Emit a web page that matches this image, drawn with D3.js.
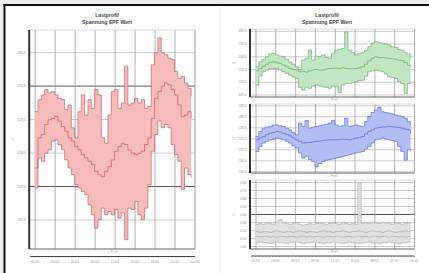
<!DOCTYPE html>
<html>
<head>
<meta charset="utf-8">
<script src="https://cdn.jsdelivr.net/npm/d3@7"></script>
<style>
  html, body { margin: 0; padding: 0; background: #ebebeb; }
  svg { display: block; font-family: "Liberation Sans", Arial, sans-serif; }
</style>
</head>
<body>
<svg id="chart" width="429" height="273"></svg>
<script>
// time of day (hours), one sample every half hour
const HOURS = [0, 0.5, 1, 1.5, 2, 2.5, 3, 3.5, 4, 4.5, 5, 5.5, 6, 6.5, 7, 7.5, 8, 8.5, 9, 9.5,
  10, 10.5, 11, 11.5, 12, 12.5, 13, 13.5, 14, 14.5, 15, 15.5, 16, 16.5, 17, 17.5, 18, 18.5, 19, 19.5,
  20, 20.5, 21, 21.5, 22, 22.5, 23, 23.5]
const TIME_TICKS = [0, 3, 6, 9, 12, 15, 18, 21, 24]
const TIME_LABELS = ['00:00', '03:00', '06:00', '09:00', '12:00', '15:00', '18:00', '21:00', '00:00']

// big chart (left) - Spannung EPF Wert
const LEFT_MAX = [229.11, 229.29, 229.36, 229.44, 229.39, 229.41, 229.36, 229.31, 229.29, 229.14,
  229.21, 228.87, 228.72, 229.11, 229.36, 229.06, 229.29, 229.16, 229.44, 229.36,
  228.72, 228.64, 229.06, 229.41, 229.44, 229.16, 229.24, 229.79, 229.21, 229.24,
  229.31, 229.24, 229.29, 229.16, 229.19, 229.81, 229.99, 230.21, 229.99, 229.96,
  229.91, 229.89, 229.71, 229.61, 229.64, 229.54, 229.46, 229.34]
const LEFT_MEAN = [228.27, 228.72, 228.77, 228.92, 228.99, 229.01, 229.04, 228.97, 228.89, 228.82,
  228.72, 228.67, 228.59, 228.54, 228.47, 228.42, 228.37, 228.32, 228.22, 228.17,
  228.14, 228.22, 228.29, 228.39, 228.52, 228.59, 228.64, 228.62, 228.54, 228.49,
  228.47, 228.49, 228.52, 228.62, 228.72, 229.01, 229.31, 229.41, 229.49, 229.54,
  229.51, 229.44, 229.36, 229.21, 229.04, 229.06, 229.11, 229.01]
const LEFT_MIN = [227.97, 228.42, 228.37, 228.49, 228.54, 228.67, 228.69, 228.62, 228.54, 228.39,
  228.27, 228.17, 228.02, 227.97, 227.92, 227.87, 227.72, 227.57, 227.37, 227.50,
  227.67, 227.57, 227.62, 227.57, 227.65, 227.52, 227.60, 227.20, 227.67, 227.65,
  227.77, 227.57, 227.50, 227.67, 228.02, 228.52, 228.77, 228.97, 228.87, 228.92,
  228.87, 228.62, 228.47, 228.37, 227.95, 228.27, 228.17, 228.12]
const LEFT_TICKS = [227.5, 228.0, 228.5, 229.0, 229.5, 230.0]

// small charts (right)
const GREEN_MAX = [228.09, 228.28, 228.38, 228.48, 228.59, 228.61, 228.55, 228.51, 228.48, 228.38,
  228.28, 228.19, 228.09, 227.98, 228.35, 228.42, 228.74, 228.35, 228.51, 228.48,
  228.55, 228.45, 228.42, 228.61, 228.74, 228.77, 228.81, 229.46, 228.74, 228.64,
  228.55, 228.61, 228.64, 228.74, 228.87, 229.01, 229.07, 229.03, 229.01, 228.98,
  228.94, 228.87, 228.85, 228.77, 228.74, 228.64, 228.59, 228.42]
const GREEN_MEAN = [227.93, 228.02, 228.11, 228.19, 228.26, 228.28, 228.25, 228.22, 228.15, 228.09,
  228.02, 227.98, 227.96, 227.89, 227.90, 227.88, 227.93, 227.96, 227.98, 227.96,
  227.96, 228.00, 228.02, 228.02, 228.04, 228.01, 228.05, 228.02, 228.00, 228.01,
  228.02, 228.05, 228.09, 228.19, 228.32, 228.42, 228.48, 228.45, 228.45, 228.43,
  228.42, 228.40, 228.38, 228.35, 228.32, 228.25, 228.15, 228.09]
const GREEN_MIN = [227.37, 227.72, 227.89, 227.96, 228.02, 228.02, 228.02, 227.96, 227.89, 227.83,
  227.76, 227.69, 227.63, 227.28, 227.17, 227.28, 227.24, 227.33, 227.37, 227.33,
  227.30, 227.28, 227.24, 227.33, 227.30, 227.07, 227.37, 227.43, 227.43, 227.46,
  227.50, 227.54, 227.56, 227.72, 227.89, 227.93, 227.96, 227.93, 227.89, 227.80,
  227.69, 227.67, 227.63, 227.50, 227.43, 227.04, 227.43, 227.50]
const GREEN_TICKS = [227.0, 227.5, 228.0, 228.5, 229.0, 229.5]

const BLUE_MAX = [227.58, 227.81, 227.96, 228.01, 228.04, 228.10, 228.11, 228.07, 228.04, 227.96,
  227.88, 227.76, 227.66, 228.19, 228.04, 228.31, 227.96, 228.01, 228.04, 228.07,
  228.11, 228.14, 228.19, 228.31, 228.11, 228.04, 228.07, 228.41, 228.04, 228.07,
  228.11, 228.07, 228.04, 228.26, 228.49, 228.67, 228.79, 228.91, 228.71, 228.67,
  228.64, 228.61, 228.56, 228.52, 228.49, 228.41, 228.26, 228.04]
const BLUE_MEAN = [227.43, 227.51, 227.58, 227.66, 227.73, 227.76, 227.81, 227.78, 227.73, 227.67,
  227.61, 227.52, 227.43, 227.36, 227.28, 227.30, 227.31, 227.33, 227.36, 227.37,
  227.40, 227.42, 227.43, 227.43, 227.43, 227.45, 227.46, 227.45, 227.43, 227.46,
  227.51, 227.54, 227.58, 227.70, 227.81, 227.88, 227.96, 227.99, 228.01, 228.02,
  228.04, 228.02, 228.01, 227.99, 227.96, 227.91, 227.88, 227.70]
const BLUE_MIN = [226.90, 227.13, 227.28, 227.36, 227.43, 227.46, 227.51, 227.48, 227.43, 227.36,
  227.28, 227.16, 227.06, 226.83, 226.60, 226.68, 226.53, 226.45, 226.20, 226.35,
  226.45, 226.50, 226.53, 226.56, 226.60, 226.63, 226.68, 226.71, 226.75, 226.78,
  226.83, 226.86, 226.90, 227.01, 227.13, 227.28, 227.43, 227.46, 227.51, 227.46,
  227.43, 227.40, 227.36, 227.13, 226.90, 226.50, 226.98, 226.90]
const BLUE_TICKS = [226.0, 226.5, 227.0, 227.5, 228.0, 228.5, 229.0]

const GRAY_MAX = [0.27, 0.28, 0.27, 0.29, 0.28, 0.27, 0.30, 0.33, 0.29, 0.28,
  0.27, 0.28, 0.29, 0.27, 0.26, 0.27, 0.28, 0.27, 0.28, 0.29,
  0.28, 0.27, 0.28, 0.29, 0.28, 0.27, 0.29, 0.28, 0.27, 0.28,
  0.27, 0.79, 0.28, 0.29, 0.28, 0.30, 0.29, 0.28, 0.30, 0.29,
  0.28, 0.27, 0.29, 0.28, 0.27, 0.28, 0.29, 0.28]
const GRAY_MEAN = [0.18, 0.17, 0.18, 0.18, 0.17, 0.18, 0.19, 0.18, 0.17, 0.18,
  0.18, 0.17, 0.18, 0.19, 0.18, 0.17, 0.18, 0.18, 0.17, 0.18,
  0.19, 0.18, 0.18, 0.17, 0.18, 0.18, 0.19, 0.18, 0.17, 0.18,
  0.18, 0.19, 0.18, 0.17, 0.18, 0.19, 0.18, 0.18, 0.17, 0.18,
  0.19, 0.18, 0.17, 0.18, 0.18, 0.19, 0.18, 0.17]
const GRAY_LOW = [0.12, 0.11, 0.12, 0.12, 0.11, 0.12, 0.11, 0.12, 0.12, 0.11,
  0.12, 0.12, 0.11, 0.12, 0.12, 0.11, 0.12, 0.11, 0.12, 0.12,
  0.11, 0.12, 0.12, 0.11, 0.12, 0.12, 0.11, 0.12, 0.12, 0.11,
  0.12, 0.12, 0.11, 0.12, 0.11, 0.12, 0.12, 0.11, 0.12, 0.12,
  0.11, 0.12, 0.12, 0.11, 0.12, 0.11, 0.12, 0.12]
const GRAY_MIN = [0.04, 0.05, 0.04, 0.04, 0.03, 0.04, 0.05, 0.04, 0.04, 0.03,
  0.04, 0.04, 0.05, 0.04, 0.03, 0.04, 0.04, 0.05, 0.04, 0.04,
  0.03, 0.04, 0.04, 0.05, 0.04, 0.04, 0.03, 0.04, 0.05, 0.04,
  0.04, 0.03, 0.04, 0.04, 0.05, 0.04, 0.04, 0.03, 0.04, 0.04,
  0.05, 0.04, 0.04, 0.03, 0.04, 0.04, 0.05, 0.04]
const GRAY_TICKS = [0, 0.1, 0.2, 0.3, 0.4, 0.5, 0.6, 0.7, 0.8]

let svg = d3.select('#chart')

// page background + frame (top and left black edges)
svg.append('rect').attr('x', 4.5).attr('y', 5).attr('width', 425).attr('height', 268).attr('fill', '#fff')
svg.append('line').attr('x1', 3.5).attr('x2', 429).attr('y1', 5).attr('y2', 5).attr('stroke', '#111').attr('stroke-width', 2)
svg.append('line').attr('x1', 4.5).attr('x2', 4.5).attr('y1', 4).attr('y2', 273).attr('stroke', '#111').attr('stroke-width', 2)
svg.append('line').attr('x1', 220).attr('x2', 220).attr('y1', 6).attr('y2', 273).attr('stroke', '#e6e6e6').attr('stroke-width', 1)

let drawPanel = p => {
  let x = d3.scaleLinear().domain([0, 24]).range(p.xRange)
  let y = d3.scaleLinear().domain(p.yDomain).range(p.yRange)
  let left = x(0) - 5.5
  let right = x(24) + 0.5
  let top = p.yRange[1]
  let bottom = p.yRange[0]
  let g = svg.append('g')

  g.append('rect')
    .attr('x', left).attr('y', top)
    .attr('width', right - left).attr('height', bottom - top)
    .attr('fill', '#fff').attr('stroke', '#c8c8c8').attr('stroke-width', 0.6)

  // horizontal grid + y labels
  g.append('g')
    .attr('transform', `translate(${left},0)`)
    .call(d3.axisLeft(y).tickValues(p.yTicks).tickSize(-(right - left)).tickFormat(d3.format(p.fmt)))
    .call(a => a.select('.domain').remove())
    .call(a => a.selectAll('line')
      .attr('stroke', d => p.dark.includes(d) ? '#555' : '#b4b4b4')
      .attr('stroke-width', d => p.dark.includes(d) ? 1 : 0.7))
    .call(a => a.selectAll('text').attr('font-size', 3.2).attr('fill', '#8a8a8a').attr('x', -3.5))

  // vertical grid
  g.append('g')
    .attr('transform', `translate(0,${bottom})`)
    .call(d3.axisBottom(x).tickValues(TIME_TICKS).tickSize(-(bottom - top)).tickFormat(''))
    .call(a => a.select('.domain').remove())
    .call(a => a.selectAll('line').attr('stroke', '#9c9c9c').attr('stroke-width', 0.8))

  let rows = HOURS.map((h, i) => ({ h: h, max: p.max[i], mean: p.mean[i], min: p.min[i] }))

  g.append('path')
    .datum(rows)
    .attr('fill', p.fill)
    .attr('d', d3.area().x(d => x(d.h)).y0(d => y(d.min)).y1(d => y(d.max)).curve(d3.curveStepAfter))

  let lines = p.extra ? [p.max, p.mean, p.extra, p.min] : [p.max, p.mean, p.min]
  lines.forEach(s => {
    g.append('path')
      .datum(s)
      .attr('fill', 'none')
      .attr('stroke', p.stroke)
      .attr('stroke-width', 0.55)
      .attr('d', d3.line().x((d, i) => x(HOURS[i])).y(d => y(d)).curve(d3.curveStepAfter))
  })

  // left axis (thick) and bottom edge
  g.append('line').attr('x1', left).attr('x2', left).attr('y1', top).attr('y2', bottom)
    .attr('stroke', '#333').attr('stroke-width', 2)
  g.append('line').attr('x1', left).attr('x2', right).attr('y1', bottom).attr('y2', bottom)
    .attr('stroke', '#555').attr('stroke-width', 0.8)

  // y title
  g.append('text')
    .attr('transform', `translate(${left - 15},${(top + bottom) / 2}) rotate(-90)`)
    .attr('text-anchor', 'middle').attr('font-size', 3.5).attr('fill', '#888')
    .text('U')

  // caption under plot
  g.append('text')
    .attr('x', (left + right) / 2).attr('y', bottom + 3.8)
    .attr('text-anchor', 'middle').attr('font-size', 3).attr('fill', '#999')
    .text('--- Pcell')

  if (p.title) {
    g.append('text').attr('x', p.titleX).attr('y', 17).attr('text-anchor', 'middle')
      .attr('font-size', 5.2).attr('font-weight', 'bold').attr('fill', '#444').text('Lastprofil')
    g.append('text').attr('x', p.titleX).attr('y', 24).attr('text-anchor', 'middle')
      .attr('font-size', 5.2).attr('font-weight', 'bold').attr('fill', '#444').text('Spannung EPF Wert')
  }

  if (p.timeAxisY) {
    g.append('line').attr('x1', left + 1).attr('x2', right).attr('y1', p.timeAxisY).attr('y2', p.timeAxisY)
      .attr('stroke', '#444').attr('stroke-width', 1)
    g.append('g')
      .attr('transform', `translate(0,${p.timeAxisY})`)
      .call(d3.axisBottom(x).ticks(48).tickSize(1.2).tickFormat(''))
      .call(a => a.select('.domain').remove())
      .call(a => a.selectAll('line').attr('stroke', '#666').attr('stroke-width', 0.5))
    g.append('g')
      .selectAll('text')
      .data(TIME_TICKS)
      .enter()
      .append('text')
      .attr('x', d => x(d))
      .attr('y', p.timeAxisY + 6)
      .attr('text-anchor', 'middle')
      .attr('font-size', 3.4)
      .attr('fill', '#999')
      .text((d, i) => TIME_LABELS[i])
  }
}

drawPanel({
  xRange: [34.7, 194.5], yDomain: [227.06, 230.33], yRange: [249, 30],
  yTicks: LEFT_TICKS, dark: [228.0, 229.5], fmt: '.1f',
  max: LEFT_MAX, mean: LEFT_MEAN, min: LEFT_MIN,
  fill: '#f6bcbc', stroke: '#b04246',
  title: true, titleX: 107, timeAxisY: 256.5
})
drawPanel({
  xRange: [255.5, 414], yDomain: [226.9, 229.57], yRange: [97, 29],
  yTicks: GREEN_TICKS, dark: [], fmt: '.1f',
  max: GREEN_MAX, mean: GREEN_MEAN, min: GREEN_MIN,
  fill: '#c2e5c2', stroke: '#4f9d4f',
  title: true, titleX: 327
})
drawPanel({
  xRange: [255.5, 414], yDomain: [225.92, 229.06], yRange: [173, 104],
  yTicks: BLUE_TICKS, dark: [], fmt: '.1f',
  max: BLUE_MAX, mean: BLUE_MEAN, min: BLUE_MIN,
  fill: '#b3bff2', stroke: '#3c55c4'
})
drawPanel({
  xRange: [255.5, 414], yDomain: [-0.0375, 0.825], yRange: [249, 180],
  yTicks: GRAY_TICKS, dark: [0.4], fmt: '.2f',
  max: GRAY_MAX, mean: GRAY_MEAN, min: GRAY_MIN, extra: GRAY_LOW,
  fill: '#e0e0e0', stroke: '#a0a0a0',
  timeAxisY: 256
})
</script>
</body>
</html>
